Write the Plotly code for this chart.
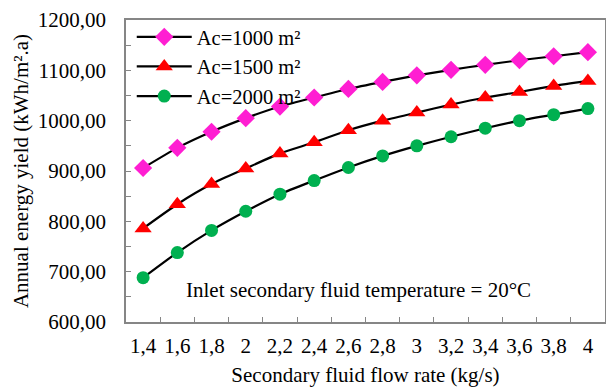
import plotly.graph_objects as go

flow_labels = ["1,4", "1,6", "1,8", "2", "2,2", "2,4", "2,6", "2,8", "3", "3,2", "3,4", "3,6", "3,8", "4"]
ac1000 = [906, 946, 978, 1005, 1028, 1046, 1063, 1077, 1090, 1101, 1111, 1120, 1128, 1136]
ac1500 = [786, 834, 874, 905, 935, 957, 981, 1000, 1016, 1032, 1046, 1057, 1069, 1079]
ac2000 = [688, 738, 782, 820, 854, 881, 907, 930, 950, 968, 985, 1000, 1012, 1024]

FONT = "Liberation Serif, Times New Roman, serif"

fig = go.Figure()
series = [
    ("Ac=1000 m²", ac1000, "#FF1ED2", "diamond", 14),
    ("Ac=1500 m²", ac1500, "#FF0000", "triangle-up", 15),
    ("Ac=2000 m²", ac2000, "#00B050", "circle", 13),
]
for name, vals, col, sym, sz in series:
    fig.add_trace(go.Scatter(
        x=flow_labels, y=vals, name=name, mode="lines+markers",
        line=dict(color="black", width=2.2, shape="spline", smoothing=0.6),
        marker=dict(color=col, symbol=sym, size=sz, line=dict(width=0)),
    ))

fig.add_annotation(
    x=0.486, y=0.107, xref="paper", yref="paper",
    text="Inlet secondary fluid temperature = 20°C", showarrow=False,
    font=dict(family=FONT, size=21, color="black"), xanchor="center", yanchor="middle",
)

fig.update_layout(
    width=606, height=389,
    margin=dict(l=126, r=1, t=20, b=67),
    paper_bgcolor="white", plot_bgcolor="white",
    font=dict(family=FONT, size=21, color="black"),
    showlegend=True,
    separators=",.",
    legend=dict(
        x=0.012, y=1.01, xanchor="left", yanchor="top",
        bgcolor="rgba(0,0,0,0)", borderwidth=0,
        font=dict(family=FONT, size=20.5, color="black"),
        itemwidth=55, tracegroupgap=0,
    ),
    xaxis=dict(
        type="category", range=[-0.5, len(flow_labels) - 0.5],
        tickson="boundaries", ticks="inside", ticklen=5,
        tickcolor="#868686", tickwidth=1.3, tickangle=0, automargin=False,
        showline=True, linecolor="#868686", linewidth=1.5, mirror=True,
        showgrid=False, zeroline=False,
        tickfont=dict(family=FONT, size=21, color="black"),
        ticklabelstandoff=4,
        title=dict(text="Secondary fluid flow rate (kg/s)", font=dict(family=FONT, size=21), standoff=10),
    ),
    yaxis=dict(
        range=[600, 1200], dtick=100, tick0=600, ticks="inside", ticklen=5,
        tickcolor="#868686", tickwidth=1.3, automargin=False,
        minor=dict(dtick=50, ticks="inside", ticklen=5, tickcolor="#868686", tickwidth=1.3, showgrid=False),
        showline=True, linecolor="#868686", linewidth=1.5, mirror=True,
        showgrid=False, zeroline=False,
        tickformat=".2f",
        tickfont=dict(family=FONT, size=21, color="black"),
        ticklabelstandoff=14,
        title=dict(text="Annual energy yield (kWh/m².a)", font=dict(family=FONT, size=21), standoff=3),
    ),
)

fig.write_html(
    "out.html",
    config={"displayModeBar": False},
    post_script="document.body.style.margin='0';document.body.style.padding='0';document.body.style.overflow='hidden';",
)
